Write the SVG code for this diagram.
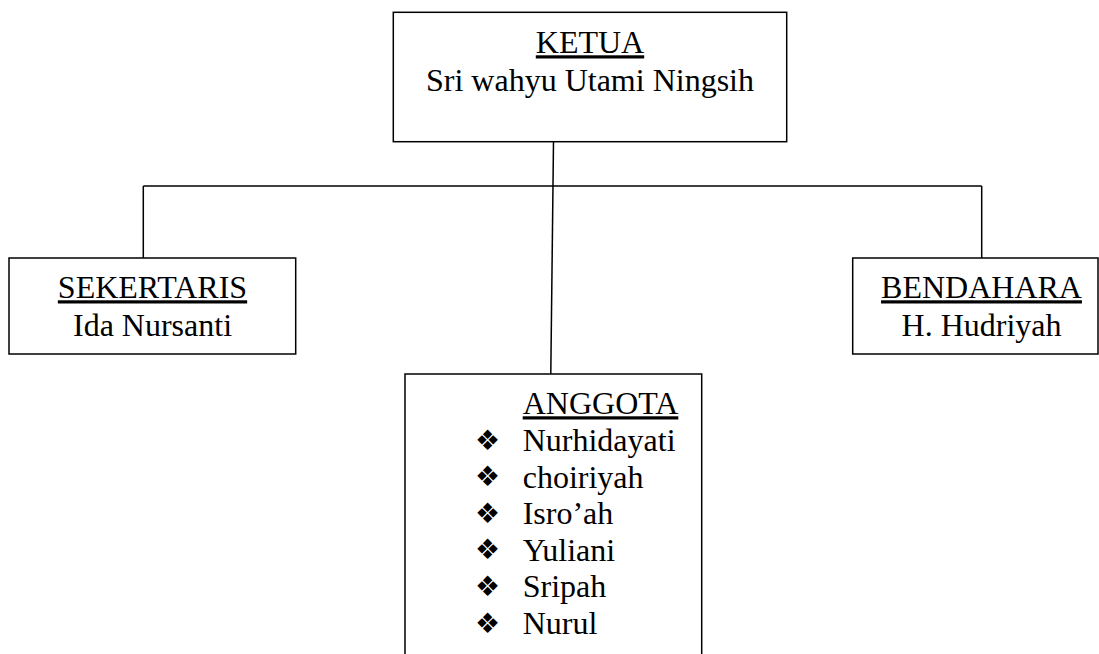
<svg xmlns="http://www.w3.org/2000/svg" width="1099" height="654" viewBox="0 0 1099 654">
  <style>
    .box { fill: #ffffff; stroke: #000000; stroke-width: 1.5; }
    .conn { stroke: #000000; stroke-width: 1.5; fill: none; }
    .t { font-family: "Liberation Serif", "Times New Roman", serif; font-size: 32px; fill: #000000; }
    .mid { text-anchor: middle; }
    .u { text-decoration: underline; }
    .bul { font-family: "DejaVu Sans", sans-serif; font-size: 28px; fill: #000000; text-anchor: middle; }
  </style>
  <rect x="0" y="0" width="1099" height="654" fill="#ffffff"/>
  <g id="connectors">
    <line class="conn" x1="553.5" y1="141.5" x2="550.8" y2="374"/>
    <line class="conn" x1="143.3" y1="186" x2="981.7" y2="186"/>
    <line class="conn" x1="143.3" y1="186" x2="143.3" y2="258"/>
    <line class="conn" x1="981.7" y1="186" x2="981.7" y2="258"/>
  </g>
  <g id="ketua">
    <rect class="box" x="393.3" y="12.3" width="393.4" height="129.4"/>
    <text class="t mid" x="590" y="53.3"><tspan class="u">KETUA</tspan></text>
    <text class="t mid" x="590" y="90.7">Sri wahyu Utami Ningsih</text>
  </g>
  <g id="sekertaris">
    <rect class="box" x="9" y="258" width="286.7" height="96"/>
    <text class="t mid" x="152.5" y="298.3"><tspan class="u">SEKERTARIS</tspan></text>
    <text class="t mid" x="152.5" y="335.7">Ida Nursanti</text>
  </g>
  <g id="bendahara">
    <rect class="box" x="852.7" y="258" width="245.3" height="96"/>
    <text class="t mid" x="981.5" y="298.3"><tspan class="u">BENDAHARA</tspan></text>
    <text class="t mid" x="981.5" y="335.7">H. Hudriyah</text>
  </g>
  <g id="anggota">
    <rect class="box" x="405" y="374" width="296.7" height="300"/>
    <text class="t" x="522.7" y="414.3"><tspan class="u">ANGGOTA</tspan></text>
    <text class="bul" x="487.5" y="449.5">❖</text>
    <text class="t" x="522.7" y="451">Nurhidayati</text>
    <text class="bul" x="487.5" y="486">❖</text>
    <text class="t" x="522.7" y="487.5">choiriyah</text>
    <text class="bul" x="487.5" y="522.5">❖</text>
    <text class="t" x="522.7" y="524">Isro’ah</text>
    <text class="bul" x="487.5" y="559.2">❖</text>
    <text class="t" x="522.7" y="560.7">Yuliani</text>
    <text class="bul" x="487.5" y="595.8">❖</text>
    <text class="t" x="522.7" y="597.3">Sripah</text>
    <text class="bul" x="487.5" y="632.5">❖</text>
    <text class="t" x="522.7" y="634">Nurul</text>
  </g>
</svg>
